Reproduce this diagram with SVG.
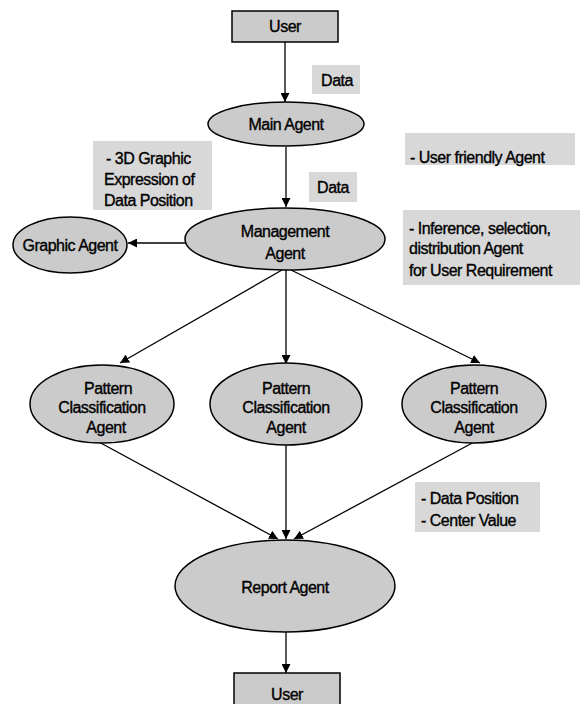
<svg xmlns="http://www.w3.org/2000/svg" width="581" height="704" viewBox="0 0 581 704">
<style>
.node{fill:#cbcbcb;stroke:#000;stroke-width:1.5}
.lbl{fill:#d8d8d8;stroke:none}
text{font-family:"Liberation Sans",Arial,sans-serif;font-size:16px;fill:#000;stroke:#000;stroke-width:0.35;letter-spacing:-0.5px}
.c{text-anchor:middle}
.edge{stroke:#000;stroke-width:1.3;fill:none;marker-end:url(#ah)}
</style>
<defs>
<marker id="ah" viewBox="0 0 10 10" refX="10" refY="5" markerWidth="9" markerHeight="9" markerUnits="userSpaceOnUse" orient="auto">
<path d="M0,0 L10,5 L0,10 z" fill="#000"/>
</marker>
</defs>
<rect width="581" height="704" fill="#fff"/>
<g id="connectors">
<line class="edge" x1="285" y1="42" x2="285" y2="102"/>
<line class="edge" x1="286" y1="147" x2="286" y2="207"/>
<line class="edge" x1="186" y1="243" x2="128" y2="243"/>
<line class="edge" x1="282" y1="270" x2="120" y2="363"/>
<line class="edge" x1="286" y1="270" x2="286" y2="364"/>
<line class="edge" x1="291" y1="270" x2="480" y2="363"/>
<line class="edge" x1="97" y1="441" x2="278" y2="539"/>
<line class="edge" x1="286" y1="444" x2="286" y2="539"/>
<line class="edge" x1="476" y1="441" x2="294" y2="539"/>
<line class="edge" x1="286" y1="632" x2="286" y2="673"/>
</g>
<g id="user-top">
<rect class="node" x="232" y="11" width="106" height="31"/>
<text class="c" x="285" y="32">User</text>
</g>
<g id="label-data1">
<rect class="lbl" x="312" y="65" width="48" height="29"/>
<text class="c" x="337" y="86">Data</text>
</g>
<g id="main-agent">
<ellipse class="node" cx="286" cy="124" rx="78" ry="22"/>
<text class="c" x="286" y="130">Main Agent</text>
</g>
<g id="label-data2">
<rect class="lbl" x="309" y="172" width="48" height="30"/>
<text class="c" x="333" y="193">Data</text>
</g>
<g id="label-3d">
<rect class="lbl" x="93" y="141" width="119" height="69"/>
<text x="106" y="164">- 3D Graphic</text>
<text x="104" y="185">Expression of</text>
<text x="104" y="206">Data Position</text>
</g>
<g id="label-friendly">
<rect class="lbl" x="405" y="133" width="170" height="32"/>
<text x="410" y="163">- User friendly Agent</text>
</g>
<g id="management-agent">
<ellipse class="node" cx="285" cy="239" rx="100" ry="31"/>
<text class="c" x="285" y="237">Management</text>
<text class="c" x="285" y="259">Agent</text>
</g>
<g id="graphic-agent">
<ellipse class="node" cx="70" cy="245" rx="57" ry="28"/>
<text class="c" x="70" y="251">Graphic Agent</text>
</g>
<g id="label-inference">
<rect class="lbl" x="403" y="210" width="177" height="75"/>
<text x="409" y="234">- Inference, selection,</text>
<text x="409" y="254">distribution Agent</text>
<text x="409" y="276">for  User Requirement</text>
</g>
<g id="pattern-left">
<ellipse class="node" cx="102" cy="404" rx="72" ry="39"/>
<text class="c" x="108" y="394">Pattern</text>
<text class="c" x="102" y="413">Classification</text>
<text class="c" x="106" y="433">Agent</text>
</g>
<g id="pattern-middle">
<ellipse class="node" cx="286" cy="404" rx="76" ry="41"/>
<text class="c" x="286" y="394">Pattern</text>
<text class="c" x="286" y="413">Classification</text>
<text class="c" x="286" y="433">Agent</text>
</g>
<g id="pattern-right">
<ellipse class="node" cx="474" cy="404" rx="72" ry="39"/>
<text class="c" x="474" y="394">Pattern</text>
<text class="c" x="474" y="413">Classification</text>
<text class="c" x="474" y="433">Agent</text>
</g>
<g id="label-datapos">
<rect class="lbl" x="415" y="482" width="125" height="50"/>
<text x="421" y="504">- Data Position</text>
<text x="421" y="526">- Center Value</text>
</g>
<g id="report-agent">
<ellipse class="node" cx="285" cy="586" rx="110" ry="46"/>
<text class="c" x="285" y="593">Report Agent</text>
</g>
<g id="user-bottom">
<rect class="node" x="234" y="673" width="106" height="32"/>
<text class="c" x="287" y="700">User</text>
</g>
</svg>
